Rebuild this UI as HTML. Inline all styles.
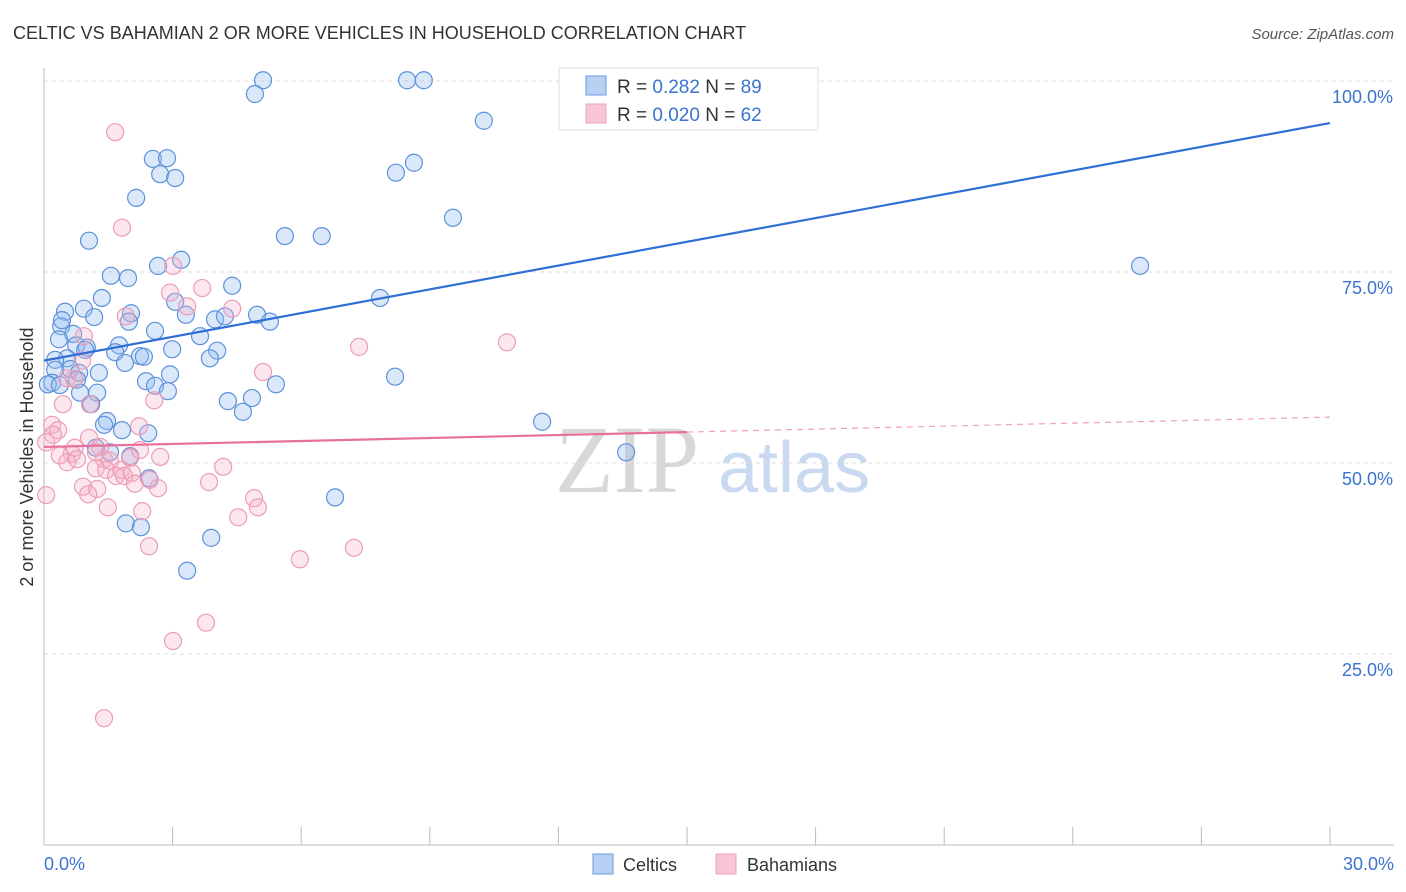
<!DOCTYPE html>
<html><head><meta charset="utf-8">
<style>
body{margin:0;background:#fff;font-family:"Liberation Sans",sans-serif;}
svg{display:block}
</style></head>
<body>
<svg id="chart" width="1406" height="892" viewBox="0 0 1406 892" xmlns="http://www.w3.org/2000/svg">
<text x="13" y="39" font-size="18" fill="#333" font-family="Liberation Sans, sans-serif">CELTIC VS BAHAMIAN 2 OR MORE VEHICLES IN HOUSEHOLD CORRELATION CHART</text>
<text x="1394" y="39" font-size="15" fill="#555" text-anchor="end" font-style="italic">Source: ZipAtlas.com</text>
<g>
<text x="555" y="492" font-size="96" fill="#d8d8d8" font-family="Liberation Serif, serif">ZIP</text>
<text x="718" y="492" font-size="72" fill="#c9daf0" font-family="Liberation Sans, sans-serif">atlas</text>
</g>
<g id="grid"></g>
<g id="axes"></g>
<g id="pts"></g>
<g id="trend"></g>
<text transform="translate(33,457) rotate(-90)" font-size="18" fill="#333" text-anchor="middle">2 or more Vehicles in Household</text>
<text x="44" y="870" font-size="18" fill="#3a74d0">0.0%</text>
<text x="1394" y="870" font-size="18" fill="#3a74d0" text-anchor="end">30.0%</text>
<g>
<rect x="559" y="68" width="259" height="62" fill="#fff" stroke="#ddd"/>
<rect x="586" y="76" width="20" height="19" fill="#b8d1f3" stroke="#6b9be0"/>
<rect x="586" y="104" width="20" height="19" fill="#f8c5d5" stroke="#eca0ba"/>
<text x="617" y="93" font-size="19" fill="#333">R = <tspan fill="#3a74d0">0.282</tspan>   N = <tspan fill="#3a74d0">89</tspan></text>
<text x="617" y="121" font-size="19" fill="#333">R = <tspan fill="#3a74d0">0.020</tspan>   N = <tspan fill="#3a74d0">62</tspan></text>
</g>
<g>
<rect x="593" y="854" width="20" height="20" fill="#b8d1f3" stroke="#6b9be0"/>
<text x="623" y="871" font-size="18" fill="#333">Celtics</text>
</g>
<g>
<rect x="716" y="854" width="20" height="20" fill="#f8c5d5" stroke="#eca0ba"/>
<text x="747" y="871" font-size="18" fill="#333">Bahamians</text>
</g>
</svg>
<script>
const celticX=[5.11,8.47,8.86,4.92,10.26,2.54,2.87,8.63,2.71,3.06,8.21,2.15,9.54,1.05,5.62,6.48,25.57,3.20,2.66,1.56,1.96,4.39,7.84,1.35,3.06,0.49,0.93,1.17,2.03,3.31,3.99,4.22,4.97,1.98,5.27,0.40,2.59,0.68,3.64,0.35,0.75,1.00,1.75,1.66,2.99,4.04,2.24,2.33,3.87,0.54,0.26,1.89,0.61,0.26,1.28,0.82,2.94,8.19,0.19,0.09,0.77,2.38,5.41,2.59,2.89,0.84,1.24,4.29,4.85,4.64,1.10,1.47,1.40,11.62,1.82,2.43,1.54,2.01,1.21,13.58,2.45,6.79,1.91,2.26,3.90,3.34,0.42,0.96,0.37];
const celticY=[100.1,100.1,100.1,98.3,94.8,89.8,89.9,89.3,87.8,87.3,88.0,84.7,82.1,79.1,79.7,79.7,75.8,76.6,75.8,74.5,74.2,73.2,71.6,71.6,71.1,69.8,70.2,69.1,69.6,69.4,68.8,69.2,69.4,68.5,68.5,67.9,67.3,66.9,66.6,66.2,65.4,65.1,65.4,64.5,64.9,64.7,64.0,63.9,63.7,63.7,63.5,63.1,62.3,62.2,61.8,61.8,61.6,61.3,60.5,60.3,60.9,60.7,60.3,60.1,59.4,59.2,59.2,58.1,58.5,56.7,57.7,55.5,55.0,55.4,54.3,53.9,51.4,50.9,52.0,51.4,48.0,45.5,42.1,41.6,40.2,35.9,68.7,64.8,60.2];
const bahX=[1.66,1.82,3.01,3.69,2.94,3.34,4.39,1.91,0.93,7.35,10.80,0.89,5.11,0.54,0.70,2.57,0.44,1.07,2.22,0.19,0.33,0.21,1.05,0.05,1.31,0.72,2.71,0.65,0.54,0.77,1.40,1.54,1.21,1.45,1.80,1.68,1.87,2.05,2.12,4.18,3.85,2.47,2.66,0.91,1.24,1.03,4.90,0.05,4.99,1.49,2.29,4.53,2.45,7.23,5.97,3.78,3.01,1.40,2.01,1.21,0.37,2.24];
const bahY=[93.3,80.8,75.8,72.9,72.3,70.5,70.2,69.2,66.6,65.2,65.8,63.4,61.9,61.1,61.0,58.2,57.7,57.7,54.8,55.0,54.3,53.7,53.3,52.7,52.1,52.0,50.8,51.2,50.1,50.5,50.5,50.3,49.3,49.1,49.1,48.3,48.3,48.7,47.3,49.5,47.5,47.8,46.7,46.9,46.6,45.9,45.4,45.8,44.2,44.2,43.7,42.9,39.1,38.9,37.4,29.1,26.7,16.6,50.7,51.4,51.0,51.7];
const celticTrend=[63.4,94.5];
const bahTrend=[52.1,56.0];
const bahSolidEnd=15;
const yTicks=[25,50,75,100];
const yTickLabels=["25.0%","50.0%","75.0%","100.0%"];
const xTicks=[0,3,6,9,12,15,18,21,24,27,30];

const NS="http://www.w3.org/2000/svg";
const X0=44,X1=1330,Y0=845,Ytop=81;
function sx(v){return X0+(v/30)*(X1-X0);}
function sy(v){return Y0-(v/100)*(Y0-Ytop);}
function mk(parent,tag,attrs){const e=document.createElementNS(NS,tag);for(const k in attrs)e.setAttribute(k,attrs[k]);document.getElementById(parent).appendChild(e);return e;}

yTicks.forEach((t,i)=>{
  const l=mk('grid','line',{x1:X0,x2:1394,y1:sy(t),y2:sy(t),stroke:'#ddd','stroke-dasharray':'4,4'});
  
  
  const tx=mk('grid','text',{x:1393,y:sy(t)+22,'font-size':18,fill:'#3a74d0','text-anchor':'end'});
  tx.textContent=yTickLabels[i];
  
  
});
const ax=mk('axes','line',{x1:X0,x2:X0,y1:68,y2:Y0,stroke:'#bbb'});


const bx=mk('axes','line',{x1:X0,x2:1394,y1:Y0,y2:Y0,stroke:'#bbb'});


xTicks.forEach(t=>{
  const l=mk('axes','line',{x1:sx(t),x2:sx(t),y1:Y0,y2:Y0-18,stroke:'#bbb'});
  
  
});
celticX.forEach((v,i)=>{
  const c=mk('pts','circle',{cx:sx(v),cy:sy(celticY[i]),r:8.5,fill:'rgba(150,190,240,0.35)',stroke:'#5d92db','stroke-width':1.2});
  
  
});
bahX.forEach((v,i)=>{
  const c=mk('pts','circle',{cx:sx(v),cy:sy(bahY[i]),r:8.5,fill:'rgba(245,175,200,0.3)',stroke:'#ec9cb8','stroke-width':1.2});
  
  
});
const tl=mk('trend','line',{x1:sx(0),y1:sy(celticTrend[0]),x2:sx(30),y2:sy(celticTrend[1]),stroke:'#2f6fd6','stroke-width':2.2});


const midY=bahTrend[0]+(bahTrend[1]-bahTrend[0])*bahSolidEnd/30;
const pl=mk('trend','line',{x1:sx(0),y1:sy(bahTrend[0]),x2:sx(bahSolidEnd),y2:sy(midY),stroke:'#e8709a','stroke-width':2.2});


const pd=mk('trend','line',{x1:sx(bahSolidEnd),y1:sy(midY),x2:sx(30),y2:sy(bahTrend[1]),stroke:'#f0a0bc','stroke-width':1.2,'stroke-dasharray':'6,5'});


</script>
</body></html>
